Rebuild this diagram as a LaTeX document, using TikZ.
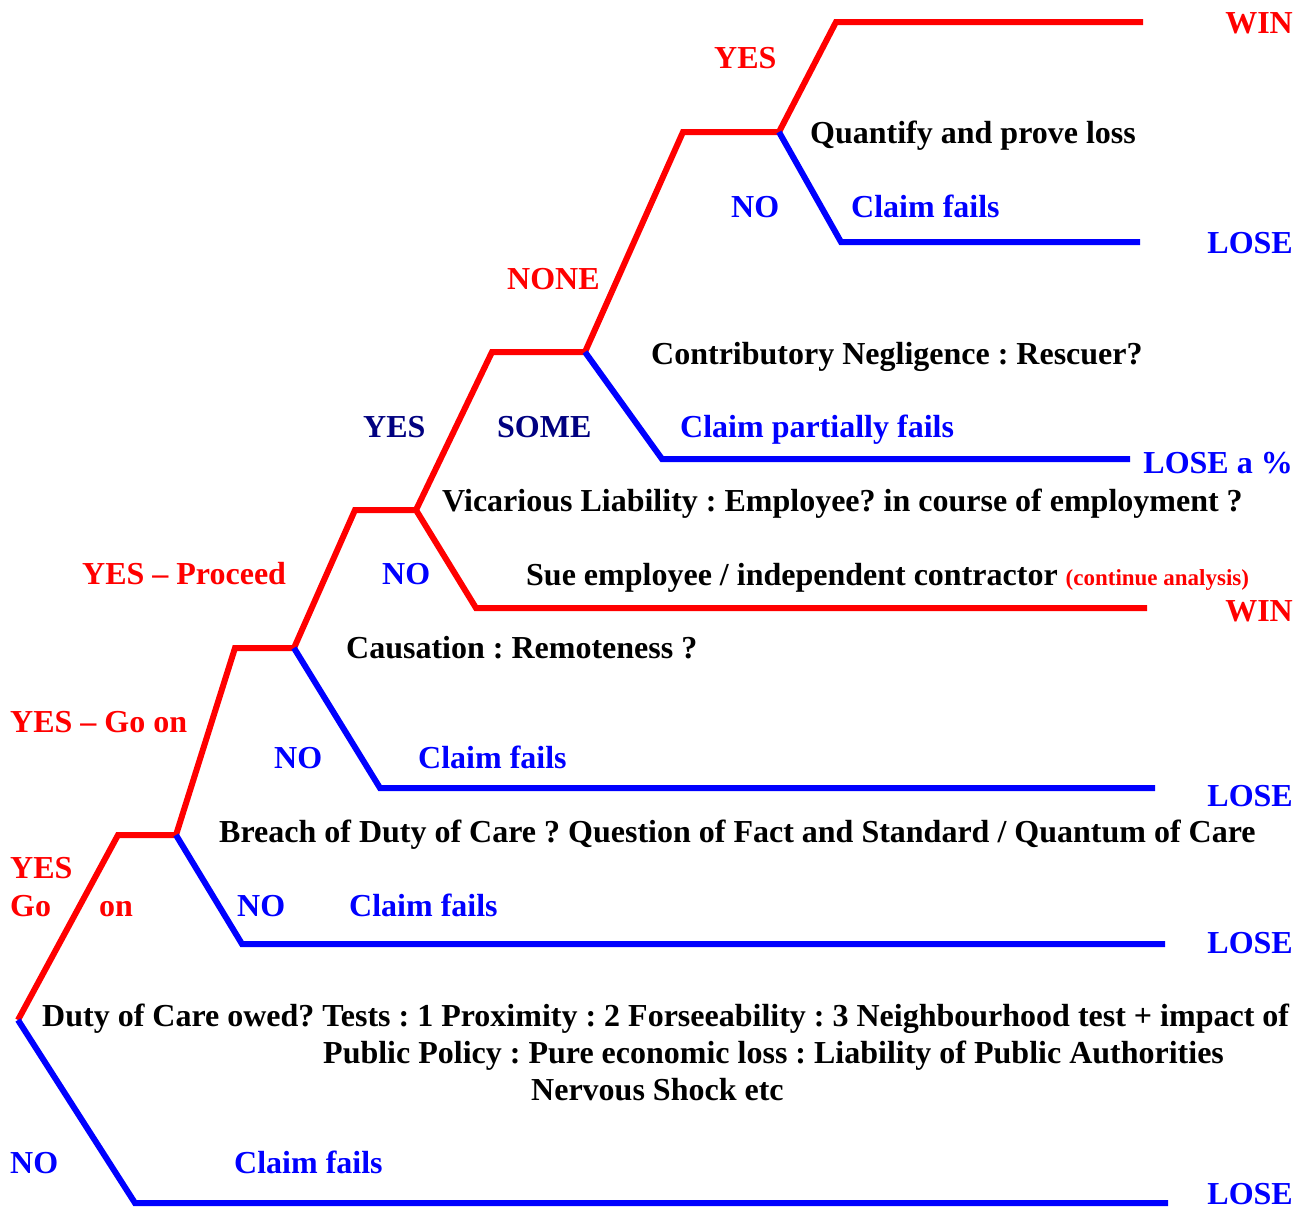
\documentclass[tikz,border=0pt]{standalone}
\usepackage{fontspec}
\setmainfont{Liberation Serif}
\definecolor{navy}{RGB}{0,0,128}
\frenchspacing

\tikzset{
  lbl/.style={font=\bfseries\fontsize{32}{36}\selectfont, inner sep=0pt, anchor=base west},
  endlbl/.style={lbl, anchor=base east},
  yesline/.style={red, line width=6pt},
  noline/.style={blue, line width=6pt}
}

\begin{document}
\begin{tikzpicture}[x=1pt,y=-1pt]
				\useasboundingbox (0,0) rectangle (1307,1210);
				% junctions
				\coordinate (duty) at (18,1020);
				\coordinate (breachL) at (118,835);
				\coordinate (breach) at (176,835);
				\coordinate (causeL) at (235,648);
				\coordinate (cause) at (294,648);
				\coordinate (vicL) at (355,510);
				\coordinate (vic) at (416,510);
				\coordinate (contribL) at (492,352);
				\coordinate (contrib) at (585,352);
				\coordinate (quantL) at (683,132);
				\coordinate (quant) at (779,132);
				% branch corners and ends
				\coordinate (winA) at (836,22);   \coordinate (winAend) at (1143,22);
				\coordinate (failQ) at (841,242); \coordinate (failQend) at (1140,242);
				\coordinate (some) at (662,459);  \coordinate (someend) at (1130,459);
				\coordinate (sue) at (476,608);   \coordinate (sueend) at (1147,608);
				\coordinate (failC) at (380,788); \coordinate (failCend) at (1155,788);
				\coordinate (failB) at (242,944); \coordinate (failBend) at (1165,944);
				\coordinate (failD) at (135,1203);\coordinate (failDend) at (1168,1203);

				\draw[yesline] (duty) -- (breachL) -- (breach) -- (causeL) -- (cause) -- (vicL) -- (vic)
				  -- (contribL) -- (contrib) -- (quantL) -- (quant) -- (winA) -- (winAend);
				\draw[noline] (quant) -- (failQ) -- (failQend);
				\draw[noline] (contrib) -- (some) -- (someend);
				\draw[yesline] (vic) -- (sue) -- (sueend);
				\draw[noline] (cause) -- (failC) -- (failCend);
				\draw[noline] (breach) -- (failB) -- (failBend);
				\draw[noline] (duty) -- (failD) -- (failDend);

				% outcomes
				\node[endlbl, red] (win1) at (1293,33) {WIN};
				\node[endlbl, blue] (lose1) at (1293,253) {LOSE};
				\node[endlbl, blue] (losepc) at (1293,473) {LOSE a \%};
				\node[endlbl, red] (win2) at (1293,621) {WIN};
				\node[endlbl, blue] (lose2) at (1293,806) {LOSE};
				\node[endlbl, blue] (lose3) at (1293,953) {LOSE};
				\node[endlbl, blue, text depth=0pt] (lose4) at (1293,1204) {LOSE};

				% questions
				\node[lbl] (qquant) at (810,143) {Quantify and prove loss};
				\node[lbl] (qcontrib) at (651,364) {Contributory Negligence : Rescuer?};
				\node[lbl] (qvic) at (442,511) {Vicarious Liability : Employee? in course of employment ?};
				\node[lbl] (qsue) at (526,585) {Sue employee / independent contractor
				  {\color{red}\fontsize{23}{26}\selectfont(continue analysis)}};
				\node[lbl] (qcause) at (346,658) {Causation : Remoteness ?};
				\node[lbl] (qbreach) at (219,842) {Breach of Duty of Care ? Question of Fact and Standard / Quantum of Care};
				\node[lbl] (qduty1) at (42,1026) {Duty of Care owed? Tests : 1 Proximity : 2 Forseeability : 3 Neighbourhood test + impact of};
				\node[lbl] (qduty2) at (323,1063) {Public Policy : Pure economic loss : Liability of Public Authorities};
				\node[lbl] (qduty3) at (531,1100) {Nervous Shock etc};

				% branch labels
				\node[lbl, red] (yesQ) at (714,68) {YES};
				\node[lbl, blue] (noQ) at (731,217) {NO};
				\node[lbl, blue] (failsQ) at (851,217) {Claim fails};
				\node[lbl, red] (noneC) at (507,289) {NONE};
				\node[lbl, navy] (yesV) at (363,437) {YES};
				\node[lbl, navy] (someC) at (497,437) {SOME};
				\node[lbl, blue] (partC) at (680,437) {Claim partially fails};
				\node[lbl, red] (yesCause) at (82,584) {YES -- Proceed};
				\node[lbl, blue] (noV) at (382,584) {NO};
				\node[lbl, red] (yesB) at (10,732) {YES -- Go on};
				\node[lbl, blue] (noCause) at (274,768) {NO};
				\node[lbl, blue] (failsCause) at (418,768) {Claim fails};
				\node[lbl, red] (yesD) at (10,878) {YES};
				\node[lbl, red] (goD) at (10,916) {Go};
				\node[lbl, red] (onD) at (99,916) {on};
				\node[lbl, blue] (noB) at (237,916) {NO};
				\node[lbl, blue] (failsB) at (349,916) {Claim fails};
				\node[lbl, blue] (noD) at (10,1173) {NO};
				\node[lbl, blue] (failsD) at (234,1173) {Claim fails};
			\end{tikzpicture}
\end{document}
